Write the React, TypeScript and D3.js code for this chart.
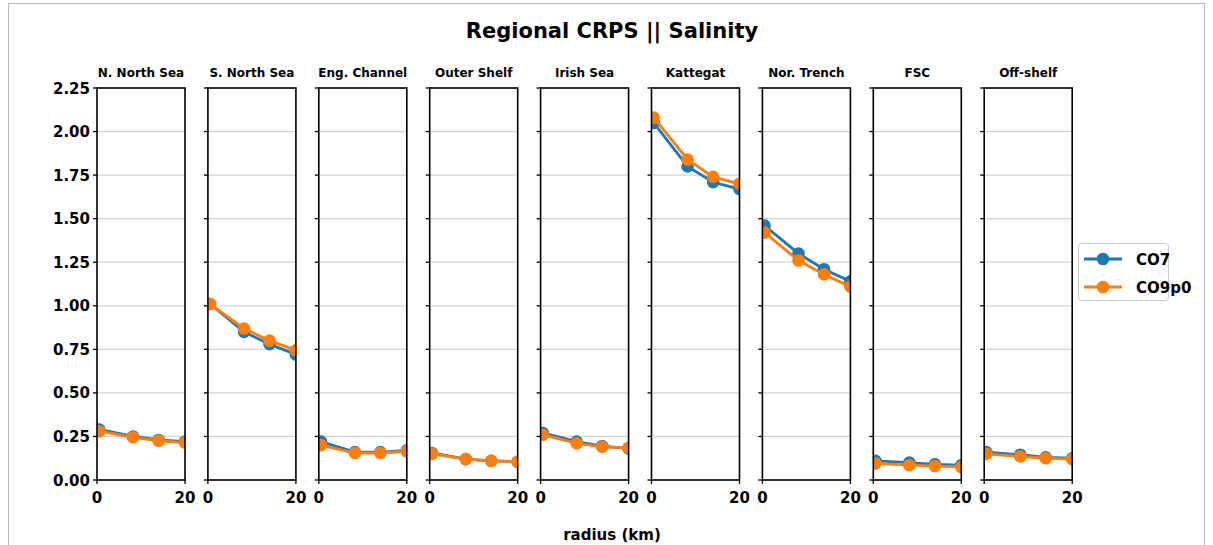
import React from "react";
import * as d3 from "d3";

const regions = ["N. North Sea", "S. North Sea", "Eng. Channel", "Outer Shelf", "Irish Sea", "Kattegat", "Nor. Trench", "FSC", "Off-shelf"];
const radii = [0.5, 8.2, 14, 20];
const co7 = [
  [0.29, 0.25, 0.23, 0.22],
  [1.01, 0.85, 0.78, 0.72],
  [0.22, 0.16, 0.16, 0.17],
  [0.155, 0.12, 0.11, 0.105],
  [0.27, 0.22, 0.195, 0.18],
  [2.05, 1.8, 1.71, 1.67],
  [1.46, 1.3, 1.21, 1.14],
  [0.11, 0.1, 0.09, 0.085],
  [0.16, 0.145, 0.13, 0.125],
];
const co9p0 = [
  [0.28, 0.245, 0.225, 0.215],
  [1.01, 0.87, 0.8, 0.745],
  [0.2, 0.155, 0.155, 0.165],
  [0.15, 0.12, 0.11, 0.105],
  [0.26, 0.21, 0.19, 0.185],
  [2.08, 1.84, 1.74, 1.7],
  [1.42, 1.26, 1.18, 1.11],
  [0.095, 0.085, 0.08, 0.075],
  [0.15, 0.135, 0.125, 0.12],
];
const yTicks = [0, 0.25, 0.5, 0.75, 1.0, 1.25, 1.5, 1.75, 2.0, 2.25];
const xTicks = [0, 20];
const seriesNames = ["CO7", "CO9p0"];
const colors = ["#1f77b4", "#ff7f0e"];

const W = 1213, H = 545;
const left0 = 97, step = 110.9, pw = 88;
const top = 88, bottom = 480;
const font = "DejaVu Sans, sans-serif";

export default function App() {
  const y = d3.scaleLinear().domain([0, 2.25]).range([bottom, top]);
  const line = (xs: d3.ScaleLinear<number, number>) =>
    d3.line<number>().x((_, i) => xs(radii[i])).y((v) => y(v));
  return (
    <svg width={W} height={H} style={{ position: "absolute", left: 0, top: 0, background: "#fff" }}>
      <rect x={8.5} y={3.5} width={1196} height={600} fill="none" stroke="#bbb" strokeWidth={1} />
      <text x={612} y={38} textAnchor="middle" fontFamily={font} fontWeight="bold" fontSize={21}>
        Regional CRPS || Salinity
      </text>
      {regions.map((r, pi) => {
        const x0 = left0 + pi * step;
        const x = d3.scaleLinear().domain([0, 20]).range([x0, x0 + pw]);
        return (
          <g key={r}>
            <clipPath id={`c${pi}`}>
              <rect x={x0} y={top} width={pw} height={bottom - top} />
            </clipPath>
            {yTicks.map((t) => (
              <g key={t}>
                <line x1={x0} x2={x0 + pw} y1={y(t)} y2={y(t)} stroke="#d3d3d3" strokeWidth={1.2} />
                <line x1={x0 - 4} x2={x0} y1={y(t)} y2={y(t)} stroke="#000" strokeWidth={1.3} />
                {pi === 0 && (
                  <text x={x0 - 7} y={y(t) + 5.5} textAnchor="end" fontFamily={font} fontWeight="bold" fontSize={15}>
                    {t.toFixed(2)}
                  </text>
                )}
              </g>
            ))}
            {xTicks.map((t) => (
              <g key={t}>
                <line x1={x(t)} x2={x(t)} y1={bottom} y2={bottom + 4} stroke="#000" strokeWidth={1.3} />
                <text x={x(t)} y={bottom + 23} textAnchor="middle" fontFamily={font} fontWeight="bold" fontSize={15}>
                  {t}
                </text>
              </g>
            ))}
            <g clipPath={`url(#c${pi})`}>
              {[co7[pi], co9p0[pi]].map((vals, si) => (
                <g key={si}>
                  <path d={line(x)(vals) || ""} fill="none" stroke={colors[si]} strokeWidth={2.8} />
                  {vals.map((v, i) => (
                    <circle key={i} cx={x(radii[i])} cy={y(v)} r={6.3} fill={colors[si]} />
                  ))}
                </g>
              ))}
            </g>
            <rect x={x0} y={top} width={pw} height={bottom - top} fill="none" stroke="#000" strokeWidth={1.6} />
            <text x={x0 + pw / 2} y={77} textAnchor="middle" fontFamily={font} fontWeight="bold" fontSize={12}>
              {r}
            </text>
          </g>
        );
      })}
      <text x={612} y={540} textAnchor="middle" fontFamily={font} fontWeight="bold" fontSize={15}>
        radius (km)
      </text>
      <g>
        <rect x={1078.5} y={243.5} width={90} height={57} rx={3} fill="#fff" stroke="#ccc" strokeWidth={1} />
        {seriesNames.map((s, i) => (
          <g key={s}>
            <line x1={1084} x2={1122} y1={259 + i * 28} y2={259 + i * 28} stroke={colors[i]} strokeWidth={2.8} />
            <circle cx={1103} cy={259 + i * 28} r={6.3} fill={colors[i]} />
            <text x={1136} y={265 + i * 28} fontFamily={font} fontWeight="bold" fontSize={15}>
              {s}
            </text>
          </g>
        ))}
      </g>
    </svg>
  );
}
